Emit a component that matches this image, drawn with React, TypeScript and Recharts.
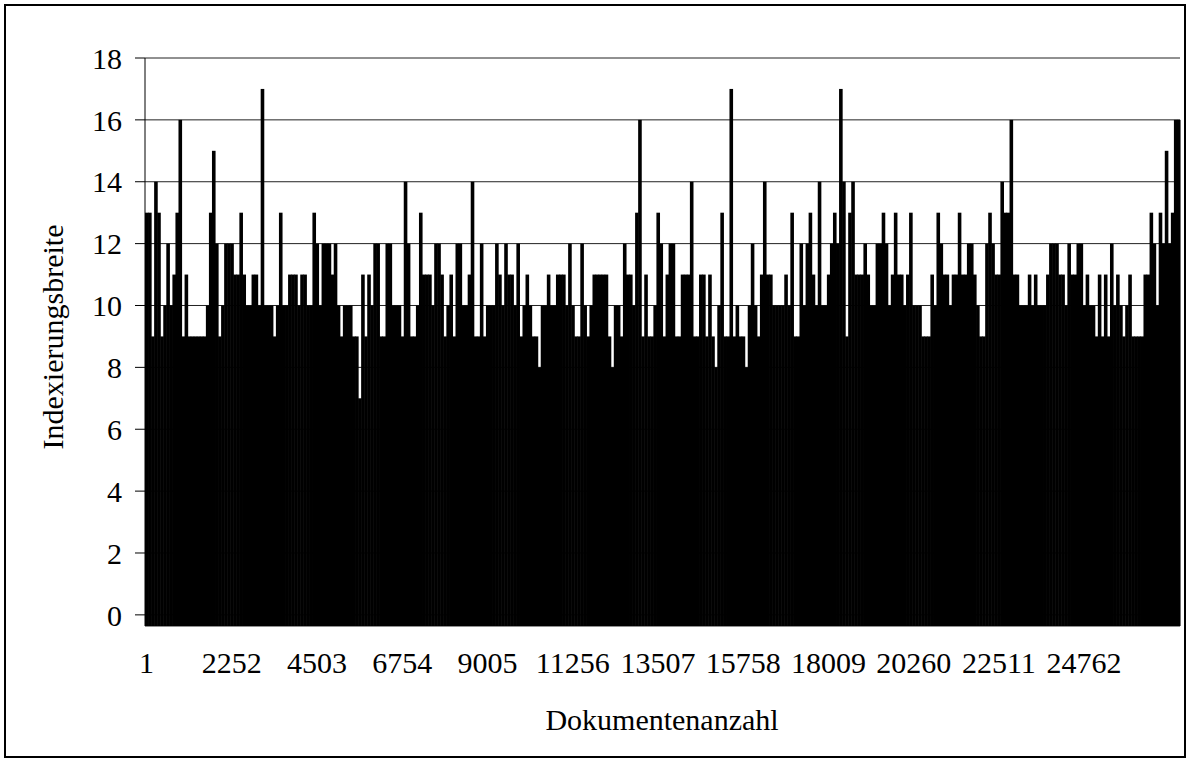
import React from "react";
import { BarChart, Bar, XAxis, YAxis, CartesianGrid, ReferenceArea } from "recharts";

// Indexierungsbreite per document, one bar per ~80 documents
const VALUES = [
  13, 13, 9, 14, 13, 9, 10, 12, 10, 11, 13, 16, 9, 11, 9, 9, 9, 9, 9, 9,
  10, 13, 15, 12, 9, 10, 12, 12, 12, 11, 11, 13, 11, 10, 10, 11, 11, 10, 17, 10,
  10, 10, 9, 10, 13, 10, 10, 11, 11, 11, 10, 11, 11, 10, 10, 13, 12, 10, 12, 12,
  12, 11, 12, 10, 9, 10, 10, 10, 9, 9, 7, 11, 9, 11, 10, 12, 12, 9, 9, 12,
  12, 10, 10, 10, 9, 14, 12, 9, 9, 10, 13, 11, 11, 11, 10, 12, 12, 11, 9, 10,
  11, 9, 12, 12, 10, 10, 11, 14, 9, 9, 12, 9, 10, 10, 10, 12, 11, 10, 12, 11,
  11, 10, 12, 9, 10, 11, 10, 9, 9, 8, 10, 10, 11, 10, 10, 11, 11, 11, 10, 12,
  10, 9, 9, 12, 10, 9, 10, 11, 11, 11, 11, 11, 9, 8, 10, 10, 9, 12, 11, 11,
  10, 13, 16, 9, 11, 9, 9, 10, 13, 12, 9, 11, 12, 12, 9, 9, 11, 11, 11, 14,
  9, 9, 11, 11, 9, 11, 9, 8, 10, 13, 9, 9, 17, 9, 10, 9, 9, 8, 10, 12,
  10, 9, 11, 14, 11, 11, 10, 10, 10, 10, 11, 10, 13, 9, 9, 12, 10, 12, 13, 11,
  10, 14, 10, 10, 11, 12, 13, 12, 17, 14, 9, 13, 14, 11, 11, 11, 12, 11, 10, 10,
  12, 12, 13, 12, 10, 11, 13, 11, 11, 10, 11, 13, 10, 10, 10, 9, 9, 9, 11, 10,
  13, 12, 11, 11, 10, 11, 11, 13, 11, 11, 12, 12, 11, 10, 9, 9, 12, 13, 12, 11,
  11, 14, 13, 13, 16, 11, 11, 10, 10, 10, 11, 10, 11, 10, 10, 10, 11, 12, 12, 12,
  11, 11, 10, 12, 11, 11, 12, 12, 10, 11, 10, 10, 9, 11, 9, 11, 9, 12, 10, 11,
  10, 9, 10, 11, 9, 9, 9, 9, 11, 11, 13, 12, 10, 13, 12, 15, 12, 13, 16, 16,
];

const X_LABELS = ["1", "2252", "4503", "6754", "9005", "11256", "13507", "15758", "18009", "20260", "22511", "24762"];
const Y_TICKS = [0, 2, 4, 6, 8, 10, 12, 14, 16, 18];

const DOCS_PER_LABEL = 2251;
const BARS_PER_LABEL = 28;
const Y_MIN = -0.36; // bars start a little under the 0 line, like in the original
const Y_MAX = 18;

const FONT = '"Liberation Serif", "Times New Roman", serif';

// first document number of each bar group
const data = VALUES.map((v, i) => ({
  doc: String(1 + Math.round((i * DOCS_PER_LABEL) / BARS_PER_LABEL)),
  range: [Y_MIN, v],
}));

const BarShape = (props: any) => {
  const { x, y, width, height } = props;
  const top = height < 0 ? y + height : y;
  return <rect x={x} y={top} width={width + 0.6} height={Math.abs(height)} fill="#000" />;
};

const XTitle = () => (
  <text x={662} y={730} textAnchor="middle" fontSize={30} fontFamily={FONT} fill="#000">
    Dokumentenanzahl
  </text>
);

const YTitle = () => (
  <text
    transform="translate(63,337) rotate(-90)"
    textAnchor="middle"
    fontSize={30}
    fontFamily={FONT}
    fill="#000"
  >
    Indexierungsbreite
  </text>
);

export default function App() {
  return (
    <div style={{ position: "fixed", left: 0, top: 0, width: 1190, height: 762, background: "#fff" }}>
      {/* outer chart frame */}
      <div
        style={{
          position: "absolute",
          left: 4,
          top: 4,
          width: 1182,
          height: 754,
          border: "2px solid #000",
          boxSizing: "border-box",
        }}
      />
      <BarChart
        width={1190}
        height={762}
        data={data}
        margin={{ top: 58, right: 10, left: 0, bottom: 0 }}
        barCategoryGap={0}
        barGap={0}
        style={{ position: "absolute", left: 0, top: 0 }}
      >
        <CartesianGrid vertical={false} stroke="#222" strokeWidth={1} />
        <ReferenceArea fill="none" stroke="#808080" strokeWidth={1} ifOverflow="visible" />
        <XAxis
          dataKey="doc"
          type="category"
          ticks={X_LABELS}
          interval={0}
          height={136}
          axisLine={false}
          tickLine={false}
          tickSize={0}
          tickMargin={26}
          tick={{ fontSize: 30, fontFamily: FONT, fill: "#000" }}
          label={<XTitle />}
        />
        <YAxis
          type="number"
          domain={[Y_MIN, Y_MAX]}
          ticks={Y_TICKS}
          interval={0}
          width={145}
          axisLine={{ stroke: "#000", strokeWidth: 1 }}
          tickLine={{ stroke: "#000", strokeWidth: 1 }}
          tickSize={10}
          tickMargin={13}
          tick={{ fontSize: 30, fontFamily: FONT, fill: "#000" }}
          label={<YTitle />}
        />
        <Bar dataKey="range" fill="#000" shape={BarShape} isAnimationActive={false} />
      </BarChart>
    </div>
  );
}
